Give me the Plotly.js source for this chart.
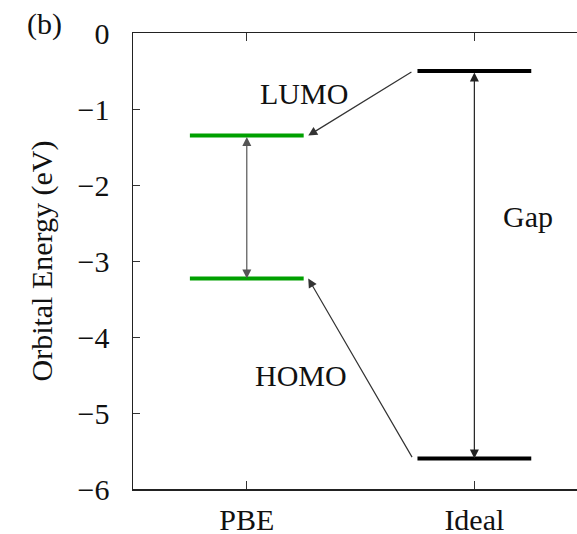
<!DOCTYPE html>
<html>
<head>
<meta charset="utf-8">
<script src="https://cdn.plot.ly/plotly-3.0.1.min.js"></script>
<style>html,body{margin:0;padding:0;background:#fff;}#chart{width:577px;height:534px;}</style>
</head>
<body>
<div id="chart"></div>
<script>
// Data
var categories = ['PBE', 'Ideal'];
var lumo = [-1.35, -0.5];
var homo = [-3.23, -5.6];
var levelColors = ['rgb(0,160,0)', 'rgb(0,0,0)'];
var yTicks = [0, -1, -2, -3, -4, -5, -6];
var yTickText = ['0', '−1', '−2', '−3', '−4', '−5', '−6'];

var halfW = 0.25;
var FONT = 'Liberation Serif, Times New Roman, serif';
var FS = 30;

var traces = [];
categories.forEach(function (c, i) {
  var xc = i + 1;
  [lumo[i], homo[i]].forEach(function (e) {
    traces.push({
      type: 'scatter', mode: 'lines',
      x: [xc - halfW, xc + halfW], y: [e, e],
      line: {color: levelColors[i], width: 4},
      hoverinfo: 'skip', showlegend: false
    });
  });
});

var annotations = [];
// gap arrows (double headed)
categories.forEach(function (c, i) {
  annotations.push({
    x: i + 1, y: homo[i], ax: i + 1, ay: lumo[i],
    xref: 'x', yref: 'y', axref: 'x', ayref: 'y',
    text: '', showarrow: true, arrowhead: 2, startarrowhead: 2,
    arrowside: 'end+start', arrowsize: 1.5, startarrowsize: 1.5,
    arrowwidth: 1.2, arrowcolor: i === 0 ? '#555' : '#222'
  });
});
// connecting arrows Ideal -> PBE
var off = 0.02;
[lumo, homo].forEach(function (arr) {
  annotations.push({
    x: 1 + halfW + off, y: arr[0], ax: 2 - halfW - off, ay: arr[1],
    xref: 'x', yref: 'y', axref: 'x', ayref: 'y',
    text: '', showarrow: true, arrowhead: 2, arrowsize: 1.5,
    arrowwidth: 1.2, arrowcolor: '#333'
  });
});
var labels = [
  {text: 'LUMO', x: 1.253, y: -0.80},
  {text: 'HOMO', x: 1.238, y: -4.51},
  {text: 'Gap', x: 2.237, y: -2.42}
];
labels.forEach(function (l) {
  annotations.push({
    x: l.x, y: l.y, xref: 'x', yref: 'y', text: l.text, showarrow: false,
    xanchor: 'center', yanchor: 'middle',
    font: {family: FONT, size: FS, color: '#111'}
  });
});
var L = 133, T = 33, B = 45, R = 0, W = 577, H = 534;
var pw = W - L - R, ph = H - T - B;
annotations.push({
  x: (44 - L) / pw, y: (H - B - 24) / ph, xref: 'paper', yref: 'paper',
  xanchor: 'center', yanchor: 'middle', text: '(b)', showarrow: false,
  font: {family: FONT, size: FS, color: '#111'}
});

var layout = {
  width: W, height: H,
  margin: {l: L, r: R, t: T, b: B, pad: 0},
  paper_bgcolor: '#fff', plot_bgcolor: '#fff',
  font: {family: FONT, size: FS, color: '#111'},
  showlegend: false,
  xaxis: {
    range: [0.5, 2.451], tickvals: [1, 2], ticktext: categories,
    showgrid: false, zeroline: false, showline: true, linecolor: '#222', linewidth: 1.5,
    mirror: 'ticks', ticks: 'inside', ticklen: 8, tickwidth: 1, tickcolor: '#333',
    ticklabelstandoff: 3,
    tickfont: {family: FONT, size: FS, color: '#111'}
  },
  yaxis: {
    range: [-6, 0], tickvals: yTicks, ticktext: yTickText,
    showgrid: false, zeroline: false, showline: true, linecolor: '#222', linewidth: 1.5,
    mirror: false, ticks: 'inside', ticklen: 7, tickwidth: 1, tickcolor: '#333',
    ticklabelstandoff: 16,
    tickfont: {family: FONT, size: FS, color: '#111'},
    title: {text: 'Orbital Energy (eV)', standoff: 16, font: {family: FONT, size: FS, color: '#111'}}
  },
  annotations: annotations
};

Plotly.newPlot('chart', traces, layout, {staticPlot: true, displayModeBar: false});
</script>
</body>
</html>
